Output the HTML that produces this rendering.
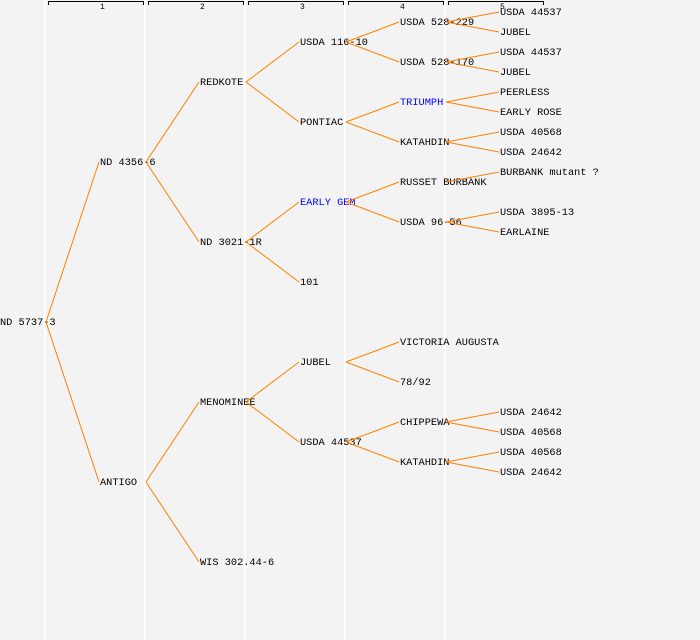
<!DOCTYPE html>
<html><head><meta charset="utf-8"><style>
html,body{margin:0;padding:0;background:#f3f3f3;}
svg{display:block;}
text{font-family:"Liberation Mono","DejaVu Sans Mono",monospace;font-size:10.3px;fill:#000;}
.n{font-size:8px;}
.b{fill:#0000ff;}
</style></head><body>
<svg width="700" height="640" xmlns="http://www.w3.org/2000/svg">
<rect width="700" height="640" fill="#f3f3f3"/>
<g stroke="#fff" stroke-width="2">
<line x1="45" y1="0" x2="45" y2="640"/><line x1="145" y1="0" x2="145" y2="640"/>
<line x1="245" y1="0" x2="245" y2="640"/><line x1="345" y1="0" x2="345" y2="640"/>
<line x1="445" y1="0" x2="445" y2="640"/>
</g>
<g stroke="#000" stroke-width="1" fill="none">
<path d="M48.5 5V1.5H143.5V5"/><path d="M148.5 5V1.5H243.5V5"/><path d="M248.5 5V1.5H343.5V5"/><path d="M348.5 5V1.5H443.5V5"/><path d="M448.5 5V1.5H543.5V5"/>
</g>
<text class="n" x="100" y="9">1</text><text class="n" x="200" y="9">2</text><text class="n" x="300" y="9">3</text><text class="n" x="400" y="9">4</text><text class="n" x="500" y="9">5</text>
<g transform="translate(0,-1)">
<text x="0" y="326">ND 5737-3</text>
<text x="100" y="166">ND 4356-6</text><text x="100" y="486">ANTIGO</text>
<text x="200" y="86">REDKOTE</text><text x="200" y="246">ND 3021-1R</text><text x="200" y="406">MENOMINEE</text><text x="200" y="566">WIS 302.44-6</text>
<text x="300" y="46">USDA 116-10</text><text x="300" y="126">PONTIAC</text><text x="300" y="206" class="b">EARLY GEM</text><text x="300" y="286">101</text><text x="300" y="366">JUBEL</text><text x="300" y="446">USDA 44537</text>
<text x="400" y="26">USDA 528-229</text><text x="400" y="66">USDA 528-170</text><text x="400" y="106" class="b">TRIUMPH</text><text x="400" y="146">KATAHDIN</text><text x="400" y="186">RUSSET BURBANK</text><text x="400" y="226">USDA 96-56</text><text x="400" y="346">VICTORIA AUGUSTA</text><text x="400" y="386">78/92</text><text x="400" y="426">CHIPPEWA</text><text x="400" y="466">KATAHDIN</text>
<text x="500" y="16">USDA 44537</text><text x="500" y="36">JUBEL</text><text x="500" y="56">USDA 44537</text><text x="500" y="76">JUBEL</text><text x="500" y="96">PEERLESS</text><text x="500" y="116">EARLY ROSE</text><text x="500" y="136">USDA 40568</text><text x="500" y="156">USDA 24642</text><text x="500" y="176">BURBANK mutant ?</text><text x="500" y="216">USDA 3895-13</text><text x="500" y="236">EARLAINE</text><text x="500" y="416">USDA 24642</text><text x="500" y="436">USDA 40568</text><text x="500" y="456">USDA 40568</text><text x="500" y="476">USDA 24642</text>
</g>
<g stroke="#ff8000" stroke-width="1" fill="none">
<path d="M46 322L99 162M46 322L99 482"/>
<path d="M146 162L199 82M146 162L199 242M146 482L199 402M146 482L199 562"/>
<path d="M246 82L299 42M246 82L299 122M246 242L299 202M246 242L299 282M246 402L299 362M246 402L299 442"/>
<path d="M346 42L399 22M346 42L399 62M346 122L399 102M346 122L399 142M346 202L399 182M346 202L399 222M346 362L399 342M346 362L399 382M346 442L399 422M346 442L399 462"/>
<path d="M446 22L499 12M446 22L499 32M446 62L499 52M446 62L499 72M446 102L499 92M446 102L499 112M446 142L499 132M446 142L499 152M446 182L499 172M446 222L499 212M446 222L499 232M446 422L499 412M446 422L499 432M446 462L499 452M446 462L499 472"/>
</g>
</svg>
</body></html>
